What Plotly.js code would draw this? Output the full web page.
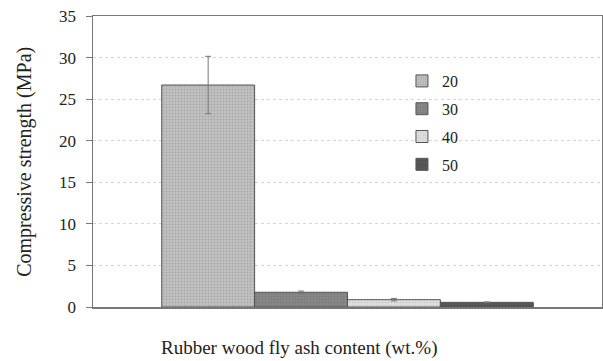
<!DOCTYPE html>
<html><head><meta charset="utf-8">
<script src="https://cdn.plot.ly/plotly-3.0.1.min.js"></script>
<style>body{margin:0;background:#fff}#chart{width:603px;height:361px}</style>
</head><body><div id="chart"></div>
<script>
const category = ["Rubber wood fly ash"];
const seriesNames = ["20", "30", "40", "50"];
const strength = [26.7, 1.77, 0.88, 0.56];
const strengthErr = [3.45, 0.15, 0.15, 0.05];
const yTicks = [0, 5, 10, 15, 20, 25, 30, 35];
const xTitle = "Rubber wood fly ash content (wt.%)";
const yTitle = "Compressive strength (MPa)";

const fills = ["#c2c2c2", "#888888", "#e2e2e2", "#5a5a5a"];
const patFg = ["#a9a9a9", "#7a7a7a", "#c8c8c8", "#4a4a4a"];
const serif = "'Liberation Serif', 'Times New Roman', serif";

const traces = seriesNames.map((name, i) => ({
  type: "bar",
  name: name,
  x: category,
  y: [strength[i]],
  legendgroup: "g" + i,
  marker: {
    color: fills[i],
    line: {color: "#555", width: 1},
    pattern: {shape: ".", fgcolor: patFg[i], bgcolor: fills[i], size: 3, solidity: 0.35}
  },
  error_y: {type: "data", array: [strengthErr[i]], visible: true, color: "#777", thickness: 1, width: 3},
  hoverinfo: "skip"
}));

const layout = {
  width: 603, height: 361,
  margin: {l: 93, r: 1, t: 16, b: 54},
  paper_bgcolor: "#fff", plot_bgcolor: "#fff",
  barmode: "group", bargap: 0.27, bargroupgap: 0,
  showlegend: true,
  legend: {
    x: 0.607, y: 0.835, xanchor: "left", yanchor: "top",
    font: {family: serif, size: 16, color: "#222"},
    traceorder: "grouped", tracegroupgap: 4, itemwidth: 30,
    bgcolor: "rgba(0,0,0,0)"
  },
  xaxis: {
    showticklabels: false, ticks: "",
    showline: true, linecolor: "#777", linewidth: 1.5, mirror: true,
    showgrid: false, zeroline: false
  },
  yaxis: {
    range: [0, 35], tickvals: yTicks, ticktext: yTicks.map(String),
    ticks: "outside", ticklen: 6, tickcolor: "#777", tickwidth: 1,
    ticklabelstandoff: 6,
    tickfont: {family: serif, size: 17, color: "#222"},
    showline: true, linecolor: "#777", linewidth: 1.5, mirror: true,
    showgrid: true, gridcolor: "#d4d4d4", griddash: "dot", gridwidth: 1,
    zeroline: false
  },
  annotations: [
    {text: yTitle, xref: "paper", yref: "paper", x: -0.135, y: 0.5, xanchor: "center", yanchor: "middle",
     textangle: -90, showarrow: false, font: {family: serif, size: 20, color: "#222"}},
    {text: xTitle, xref: "paper", yref: "paper", x: 0.405, y: -0.142, xanchor: "center", yanchor: "middle",
     showarrow: false, font: {family: serif, size: 19, color: "#222"}}
  ]
};

Plotly.newPlot("chart", traces, layout, {staticPlot: true, displayModeBar: false});
</script>
</body></html>
